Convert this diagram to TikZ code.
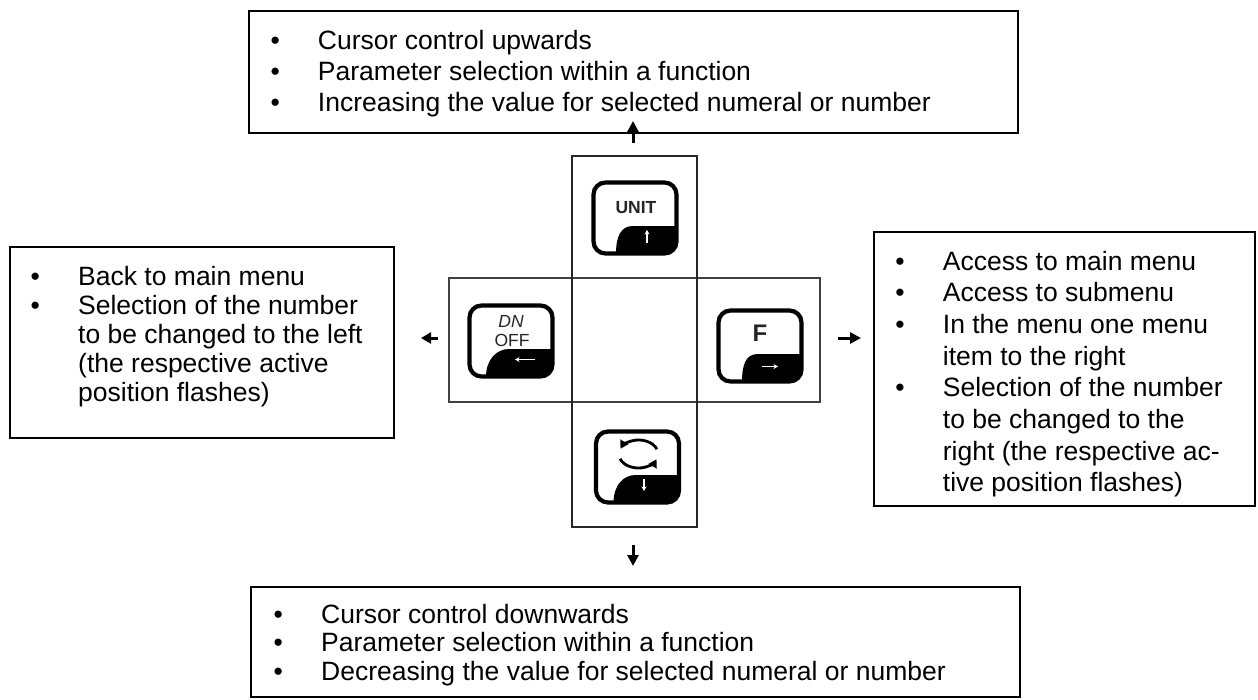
\documentclass[tikz,border=0pt]{standalone}
\usepackage{fontspec}
\setmainfont{Liberation Sans}
\usetikzlibrary{arrows.meta}
\newcommand{\bitm}[1]{\hbox{\makebox[47.5pt][l]{•}#1}}
\newcommand{\citm}[1]{\hbox{\hspace*{47.5pt}#1}}
\newcommand{\blist}[2]{\vtop{\fontsize{26.5pt}{#1}\selectfont\baselineskip=#1\relax #2}}
\newcommand{\kbtn}[2]{%
  \begin{scope}[shift={(#1)}]
    \begin{scope}
      \clip[rounded corners=12pt] (-41.5,-35.5) rectangle (41.5,35.5);
      \fill[black] (#2,36) .. controls (#2,18) and (-14,8) .. (-2,8) -- (42,8) -- (42,36) -- cycle;
    \end{scope}
    \draw[line width=4.2pt, rounded corners=12pt] (-41.5,-35.5) rectangle (41.5,35.5);
  \end{scope}}
\begin{document}
\begin{tikzpicture}[x=1pt,y=-1pt,
  box/.style={draw=black, line width=2pt, inner sep=0pt, outer sep=0pt},
  txt/.style={anchor=base west, inner sep=0pt, outer sep=0pt},
  arr/.style={line width=3pt, -{Triangle[length=11pt,width=11pt]}},
  arrs/.style={line width=3pt, -{Triangle[length=10pt,width=11pt]}},
  warr/.style={draw=white, line width=1.3pt, -{Stealth[length=4.5pt,width=5pt]}},
  klab/.style={inner sep=0pt, text=black!85},
  cell/.style={inner sep=0pt, outer sep=0pt},
]
\useasboundingbox (0,0) rectangle (1258,699);
\fill[white] (0,0) rectangle (1258,699);

% text boxes
\node[box, minimum width=769pt, minimum height=122pt] (btop) at (633.5,72) {};
\node[box, minimum width=384pt, minimum height=191pt] (bleft) at (202,342.5) {};
\node[box, minimum width=381pt, minimum height=274pt] (bright) at (1064.5,369) {};
\node[box, minimum width=769pt, minimum height=110pt] (bbot) at (635.5,642) {};

% cross of key cells
\node[cell, draw=black!75, line width=1.6pt, minimum width=371pt, minimum height=124pt] (band) at (634.5,340) {};
\node[cell, draw=black!85, line width=2.6pt, minimum width=125pt, minimum height=371pt] (col) at (634.5,341.5) {};

% texts
\node[txt] (ttop) at (270.5,49.5) {\blist{31pt}{%
  \bitm{Cursor control upwards}%
  \bitm{Parameter selection within a function}%
  \bitm{Increasing the value for selected numeral or number}}};
\node[txt] (tleft) at (30.7,285) {\blist{29pt}{%
  \bitm{Back to main menu}%
  \bitm{Selection of the number}%
  \citm{to be changed to the left}%
  \citm{(the respective active}%
  \citm{position flashes)}}};
\node[txt] (tright) at (895.4,270) {\blist{31.7pt}{%
  \bitm{Access to main menu}%
  \bitm{Access to submenu}%
  \bitm{In the menu one menu}%
  \citm{item to the right}%
  \bitm{Selection of the number}%
  \citm{to be changed to the}%
  \citm{right (the respective ac-}%
  \citm{tive position flashes)}}};
\node[txt] (tbot) at (273.7,623) {\blist{28.5pt}{%
  \bitm{Cursor control downwards}%
  \bitm{Parameter selection within a function}%
  \bitm{Decreasing the value for selected numeral or number}}};

% keys
\coordinate (kU) at (635,218);
\coordinate (kL) at (511,341);
\coordinate (kR) at (760,346);
\coordinate (kD) at (637.5,467);
\kbtn{kU}{-19}
\kbtn{kL}{-25}
\kbtn{kR}{-18}
\kbtn{kD}{-24}

\node[klab, font=\bfseries\fontsize{17.5pt}{17.5pt}\selectfont] (lunit) at (636,208) {UNIT};
\node[klab, font=\itshape\fontsize{17.5pt}{17.5pt}\selectfont] (lon) at (511,321) {DN};
\node[klab, font=\fontsize{17.5pt}{17.5pt}\selectfont] (loff) at (512,340) {OFF};
\node[klab, font=\bfseries\fontsize{24pt}{24pt}\selectfont] (lf) at (760,333) {F};

% rotate symbol
\coordinate (rc) at (638.5,454);
\draw[line width=2.8pt, -{Triangle[length=8pt,width=9pt]}] (656.9,449.2) arc[start angle=-20, end angle=-158, x radius=19.5, y radius=14];
\draw[line width=2.8pt, -{Triangle[length=8pt,width=9pt]}] (620.1,458.8) arc[start angle=160, end angle=22, x radius=19.5, y radius=14];

% small white arrows
\coordinate (wUa) at (647,243); \coordinate (wUb) at (647,230);
\coordinate (wLa) at (535,359.5); \coordinate (wLb) at (515,359.5);
\coordinate (wRa) at (762,366.5); \coordinate (wRb) at (778,366.5);
\coordinate (wDa) at (644,479); \coordinate (wDb) at (644,491);
\draw[warr] (wUa) -- (wUb);
\draw[warr] (wLa) -- (wLb);
\draw[warr] (wRa) -- (wRb);
\draw[warr] (wDa) -- (wDb);

% main arrows
\coordinate (upA) at (633,143); \coordinate (upB) at (633,121);
\coordinate (dnA) at (633,545); \coordinate (dnB) at (633,566);
\coordinate (ltA) at (438,338); \coordinate (ltB) at (421,338);
\coordinate (rtA) at (838,338); \coordinate (rtB) at (861,338);
\draw[arr] (upA) -- (upB);
\draw[arr] (dnA) -- (dnB);
\draw[arrs] (ltA) -- (ltB);
\draw[arr] (rtA) -- (rtB);
\end{tikzpicture}
\end{document}
